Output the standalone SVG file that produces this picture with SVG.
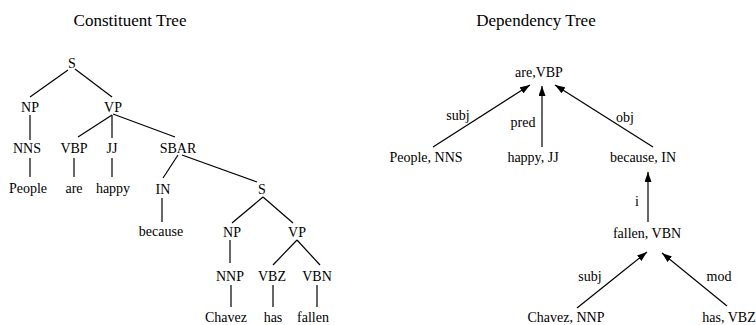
<svg xmlns="http://www.w3.org/2000/svg" width="756" height="325" viewBox="0 0 756 325">
<style>
text{font-family:"Liberation Serif","Times New Roman",serif;font-size:14px;fill:#000;text-anchor:middle}
.title{font-size:17px}
.e line{stroke:#000;stroke-width:1.2}
.d line{stroke:#000;stroke-width:1.2;marker-end:url(#ah)}
</style>
<defs>
<marker id="ah" markerUnits="userSpaceOnUse" markerWidth="10" markerHeight="7" refX="10" refY="3.5" orient="auto">
<path d="M0,0 L10,3.5 L0,7 z" fill="#000"/>
</marker>
</defs>
<rect width="756" height="325" fill="#fff"/>
<text class="title" x="130" y="26">Constituent Tree</text>
<text class="title" x="536" y="26">Dependency Tree</text>

<g id="c-edges" class="e">
<line x1="68" y1="70" x2="30" y2="97"/>
<line x1="75" y1="69" x2="112" y2="97"/>
<line x1="30" y1="115" x2="30" y2="140"/>
<line x1="112" y1="115" x2="78" y2="137"/>
<line x1="112" y1="115" x2="112" y2="138"/>
<line x1="113" y1="114" x2="175" y2="137"/>
<line x1="30" y1="158" x2="30" y2="177"/>
<line x1="74" y1="158" x2="74" y2="177"/>
<line x1="112" y1="158" x2="112" y2="177"/>
<line x1="178" y1="155" x2="163" y2="178"/>
<line x1="182" y1="155" x2="257" y2="182"/>
<line x1="162" y1="198" x2="162" y2="222"/>
<line x1="263" y1="197" x2="232" y2="223"/>
<line x1="263" y1="197" x2="293" y2="223"/>
<line x1="230" y1="240" x2="230" y2="263"/>
<line x1="297" y1="240" x2="273" y2="265"/>
<line x1="297" y1="240" x2="320" y2="265"/>
<line x1="231" y1="285" x2="231" y2="307"/>
<line x1="273" y1="285" x2="273" y2="307"/>
<line x1="317" y1="285" x2="317" y2="307"/>
</g>

<g id="c-S"><text x="72" y="68">S</text></g>
<g id="c-NP"><text x="30" y="112">NP</text></g>
<g id="c-VP"><text x="113" y="112">VP</text></g>
<g id="c-NNS"><text x="27" y="153">NNS</text></g>
<g id="c-VBP"><text x="74" y="153">VBP</text></g>
<g id="c-JJ"><text x="112" y="153">JJ</text></g>
<g id="c-SBAR"><text x="178" y="153">SBAR</text></g>
<g id="c-People"><text x="28" y="193">People</text></g>
<g id="c-are"><text x="74" y="193">are</text></g>
<g id="c-happy"><text x="113" y="193">happy</text></g>
<g id="c-IN"><text x="163" y="194">IN</text></g>
<g id="c-S2"><text x="262" y="194">S</text></g>
<g id="c-because"><text x="161" y="236">because</text></g>
<g id="c-NP2"><text x="232" y="237">NP</text></g>
<g id="c-VP2"><text x="297" y="237">VP</text></g>
<g id="c-NNP"><text x="230" y="281">NNP</text></g>
<g id="c-VBZ"><text x="272" y="281">VBZ</text></g>
<g id="c-VBN"><text x="317" y="281">VBN</text></g>
<g id="c-Chavez"><text x="226" y="322">Chavez</text></g>
<g id="c-has"><text x="273" y="322">has</text></g>
<g id="c-fallen"><text x="313" y="322">fallen</text></g>

<g id="d-edges" class="d">
<line x1="433" y1="147" x2="530" y2="85"/>
<line x1="542" y1="147" x2="542" y2="86"/>
<line x1="653" y1="147" x2="555" y2="85"/>
<line x1="648" y1="222" x2="648" y2="172"/>
<line x1="577" y1="308" x2="647" y2="252"/>
<line x1="727" y1="306" x2="662" y2="253"/>
</g>
<g id="d-labels">
<text x="458" y="120">subj</text>
<text x="523" y="127">pred</text>
<text x="625" y="122">obj</text>
<text x="637" y="206">i</text>
<text x="590" y="281">subj</text>
<text x="719" y="281">mod</text>
</g>

<g id="d-are"><text x="539" y="77">are,VBP</text></g>
<g id="d-people"><text x="426" y="162">People, NNS</text></g>
<g id="d-happy"><text x="533" y="162">happy, JJ</text></g>
<g id="d-because"><text x="643" y="162">because, IN</text></g>
<g id="d-fallen"><text x="647" y="238">fallen, VBN</text></g>
<g id="d-chavez"><text x="566" y="322">Chavez, NNP</text></g>
<g id="d-has"><text x="729" y="322">has, VBZ</text></g>
</svg>
